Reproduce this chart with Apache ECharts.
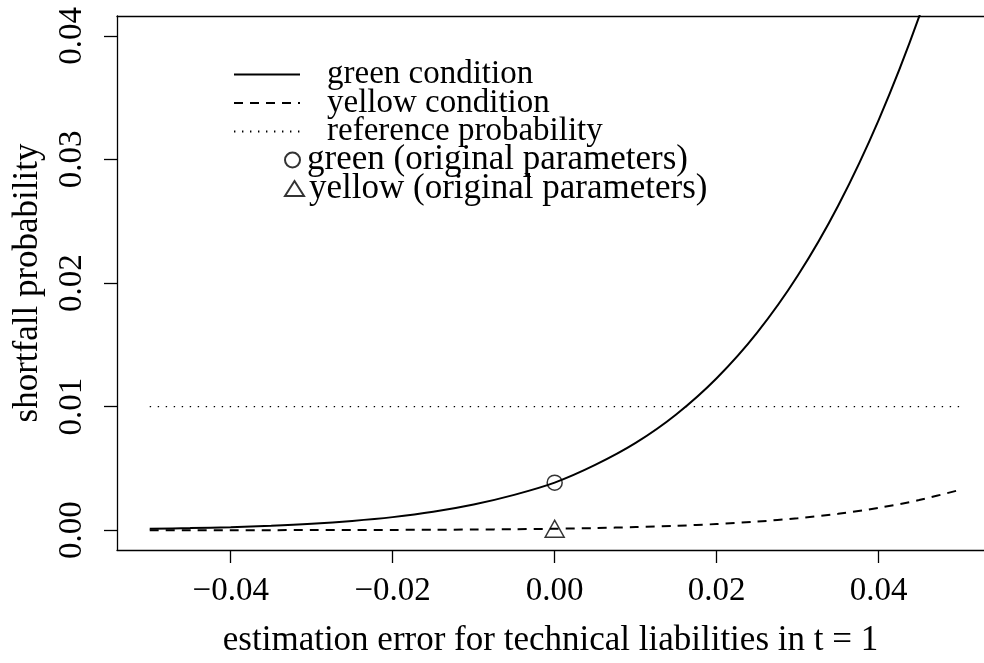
<!DOCTYPE html>
<html>
<head>
<meta charset="utf-8">
<script src="https://cdn.jsdelivr.net/npm/echarts@6/dist/echarts.min.js"></script>
<style>html,body{margin:0;padding:0;background:#fff;}#c{width:984px;height:663px;}</style>
</head>
<body>
<div id="c"></div>
<script>
// ---- data ----
var xs = [-0.05,-0.045,-0.04,-0.035,-0.03,-0.025,-0.02,-0.015,-0.01,-0.005,0,0.005,0.01,0.015,0.02,0.025,0.03,0.035,0.04,0.045,0.05];
var greenCond = [0.00011,0.00017,0.00025,0.00036,0.00052,0.00075,0.00106,0.00149,0.00208,0.00286,0.00385,0.00528,0.00706,0.00936,0.01229,0.01598,0.02058,0.02625,0.03318,0.04155,0.05155];
var yellowCond = [0.0000019,0.000003,0.0000047,0.0000073,0.0000111,0.0000169,0.0000254,0.000038,0.000056,0.000083,0.000121,0.000175,0.000251,0.000356,0.000501,0.000699,0.000968,0.00133,0.00181,0.00244,0.00326];
var refX = [-0.05, 0.05];
var refY = [0.01, 0.01];
var greenOrig = [0, 0.00385];
var yellowOrig = [0, 0.00012];
var xTicks = [-0.04,-0.02,0,0.02,0.04];
var yTicks = [0,0.01,0.02,0.03,0.04];
var names = ['green condition','yellow condition','reference probability','green (original parameters)','yellow (original parameters)'];

var FONT = 'Liberation Serif';
var FS_TICK = 33;
var FS_TEXT = 35;
var FS_LEG1 = 33;
var FS_LEG2 = 35;
var X_MIN = -0.05404, X_MAX = 0.05301, Y_MIN = -0.0016, Y_MAX = 0.0416;
function pairs(a,b){return a.map(function(v,i){return [v,b[i]];});}

var rowY = [74.5, 103, 131.5, 160, 188.5];
function lineLegend(i){
  return {data:[names[i]], orient:'vertical', left:233, top:rowY[i]-FS_LEG1/2, padding:0,
    itemWidth:66, itemHeight:4, selectedMode:false,
    itemStyle:{opacity:0},
    textStyle:{fontSize:FS_LEG1, fontFamily:FONT, color:'#000', padding:[0,0,0,22]}};
}
function symLegend(i){
  return {data:[names[i]], orient:'vertical', left:284, top:rowY[i]-FS_LEG2/2, padding:0,
    itemWidth:19, itemHeight:15, selectedMode:false,
    textStyle:{fontSize:FS_LEG2, fontFamily:FONT, color:'#000', padding:[0,0,0,0]}};
}

var chart = echarts.init(document.getElementById('c'), null, {renderer:'canvas'});
chart.setOption({
  animation:false,
  backgroundColor:'#fff',
  textStyle:{fontFamily:FONT,color:'#000'},
  grid:{left:117, top:16, right:0, height:538, show:false, containLabel:false},
  xAxis:[{
    type:'value', min:X_MIN, max:X_MAX, position:'bottom',
    splitLine:{show:false},
    axisLine:{show:true, onZero:false, lineStyle:{color:'#000', width:1.3}},
    axisTick:{show:true, customValues:xTicks, length:13, inside:false, lineStyle:{color:'#000', width:1.3}},
    axisLabel:{show:true, customValues:xTicks, margin:25, fontSize:FS_TICK, fontFamily:FONT, color:'#000',
      formatter:function(v){var s=Math.abs(v).toFixed(2);return (v<-1e-9?'\u2212':'')+s;}},
    name:'estimation error for technical liabilities in t = 1',
    nameLocation:'middle', nameGap:73,
    nameTextStyle:{fontSize:FS_TEXT, fontFamily:FONT, color:'#000'}
  },{
    type:'value', min:X_MIN, max:X_MAX, position:'top',
    splitLine:{show:false},
    axisLine:{show:true, onZero:false, lineStyle:{color:'#000', width:1.3}},
    axisTick:{show:false}, axisLabel:{show:false}
  }],
  yAxis:{
    type:'value', min:Y_MIN, max:Y_MAX,
    splitLine:{show:false},
    axisLine:{show:true, onZero:false, lineStyle:{color:'#000', width:1.3}},
    axisTick:{show:true, customValues:yTicks, length:13, inside:false, lineStyle:{color:'#000', width:1.3}},
    axisLabel:{show:true, customValues:yTicks, margin:28, rotate:90, fontSize:FS_TICK, fontFamily:FONT, color:'#000',
      formatter:function(v){return v.toFixed(2);}},
    name:'shortfall probability',
    nameLocation:'middle', nameGap:72, nameRotate:90,
    nameTextStyle:{fontSize:FS_TEXT, fontFamily:FONT, color:'#000'}
  },
  legend:[lineLegend(0), lineLegend(1), lineLegend(2), symLegend(3), symLegend(4)],
  series:[
    {name:names[0], type:'line', data:pairs(xs,greenCond), showSymbol:false, symbol:'none', smooth:0.3, clip:true,
     lineStyle:{color:'#000', width:2, type:'solid'}, itemStyle:{color:'#000'}},
    {name:names[1], type:'line', data:pairs(xs,yellowCond), showSymbol:false, symbol:'none', smooth:0.3, clip:true,
     lineStyle:{color:'#000', width:2, type:[9,7]}, itemStyle:{color:'#000'}},
    {name:names[2], type:'line', data:pairs(refX,refY), showSymbol:false, symbol:'none', clip:true,
     lineStyle:{color:'#000', width:1.4, type:[1.4,6.6]}, itemStyle:{color:'#000'}},
    {name:names[3], type:'scatter', data:[greenOrig], symbol:'circle', symbolSize:15,
     itemStyle:{color:'rgba(0,0,0,0)', borderColor:'#000', borderWidth:1.5}},
    {name:names[4], type:'scatter', data:[yellowOrig], symbol:'triangle', symbolSize:[19,17],
     itemStyle:{color:'rgba(0,0,0,0)', borderColor:'#000', borderWidth:1.5}}
  ]
});
</script>
</body>
</html>
